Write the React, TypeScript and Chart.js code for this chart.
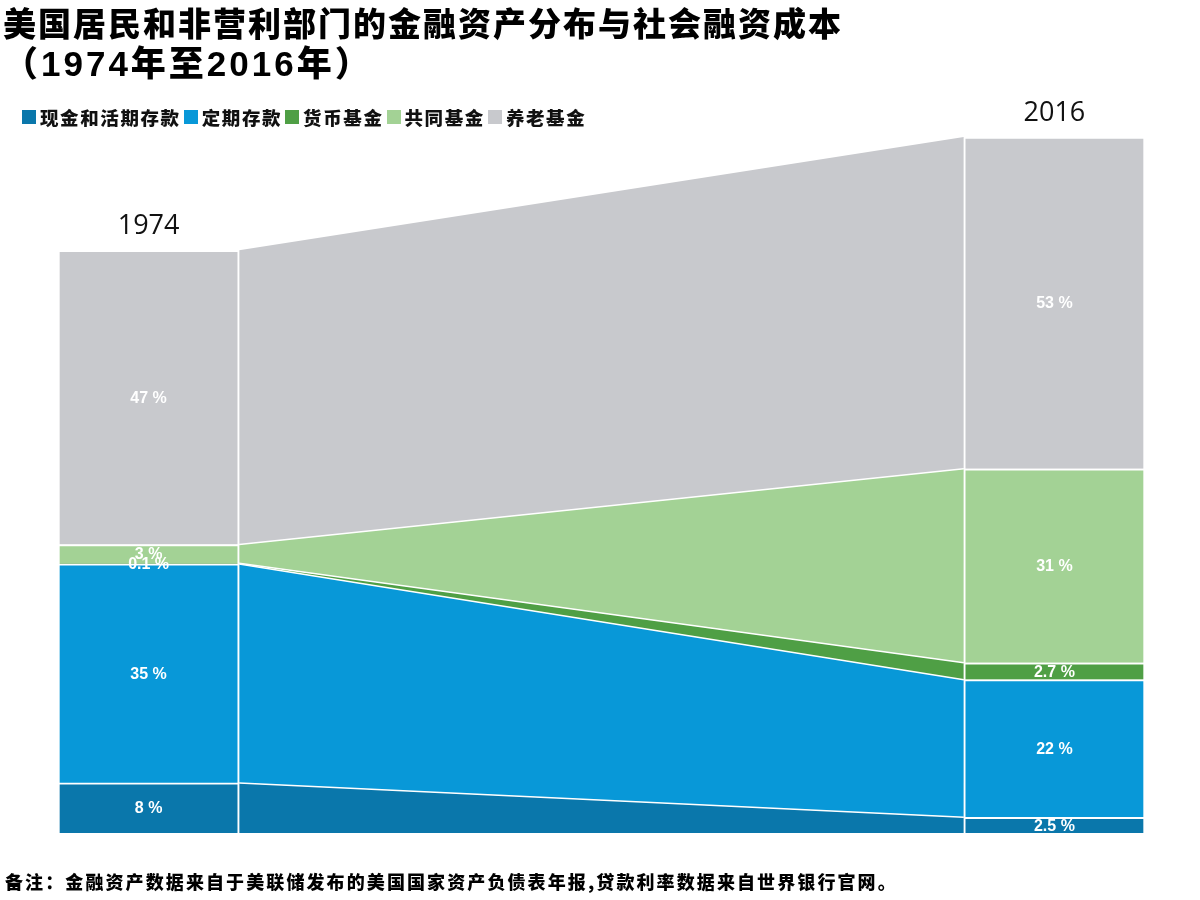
import React, { useEffect, useRef } from "react";
import { Chart, registerables } from "chart.js";

Chart.register(...registerables);

const titleLines = ["美国居民和非营利部门的金融资产分布与社会融资成本", "（1974年至2016年）"];
const noteText = "备注：金融资产数据来自于美联储发布的美国国家资产负债表年报,贷款利率数据来自世界银行官网。";

const categories = ["1974", "", "", "", "", "2016"];
const seriesNames = ["现金和活期存款", "定期存款", "货币基金", "共同基金", "养老基金"];
const seriesColors = ["#0a77ab", "#0898d8", "#4f9f45", "#a3d295", "#c8c9cd"];
const cashValues = [8, null, null, null, null, 2.5];
const timeDepositValues = [35, null, null, null, null, 22];
const moneyFundValues = [0.1, null, null, null, null, 2.7];
const mutualFundValues = [3, null, null, null, null, 31];
const pensionValues = [47, null, null, null, null, 53];
const seriesValues = [cashValues, timeDepositValues, moneyFundValues, mutualFundValues, pensionValues];

const connectorPlugin = {
  id: "connectors",
  beforeDatasetsDraw(chart: any) {
    const ctx = chart.ctx;
    const metas = chart.data.datasets.map((_: any, i: number) => chart.getDatasetMeta(i));
    const segs: any[] = [];
    metas.forEach((meta: any, i: number) => {
      const a = meta.data[0].getProps(["x", "y", "base", "width"], true);
      const b = meta.data[meta.data.length - 1].getProps(["x", "y", "base", "width"], true);
      const xa = a.x + a.width / 2;
      const xb = b.x - b.width / 2;
      segs.push({ xa, xb, a, b, color: chart.data.datasets[i].backgroundColor });
    });
    ctx.save();
    segs.forEach((s) => {
      ctx.beginPath();
      ctx.moveTo(s.xa, s.a.y);
      ctx.lineTo(s.xb, s.b.y);
      ctx.lineTo(s.xb, s.b.base);
      ctx.lineTo(s.xa, s.a.base);
      ctx.closePath();
      ctx.fillStyle = s.color;
      ctx.fill();
    });
    ctx.strokeStyle = "#ffffff";
    ctx.lineWidth = 1.5;
    segs.forEach((s, i) => {
      if (i === segs.length - 1) return;
      ctx.beginPath();
      ctx.moveTo(s.xa, s.a.y);
      ctx.lineTo(s.xb, s.b.y);
      ctx.stroke();
    });
    ctx.restore();
  },
};

const labelPlugin = {
  id: "segmentLabels",
  afterDatasetsDraw(chart: any) {
    const ctx = chart.ctx;
    ctx.save();
    ctx.fillStyle = "#ffffff";
    ctx.font = "bold 16px 'Liberation Sans', Arial, sans-serif";
    ctx.textAlign = "center";
    ctx.textBaseline = "middle";
    const tops: Record<number, number> = {};
    chart.data.datasets.forEach((ds: any, i: number) => {
      const meta = chart.getDatasetMeta(i);
      ds.data.forEach((v: any, j: number) => {
        if (v === null || v === undefined) return;
        const el = meta.data[j].getProps(["x", "y", "base"], true);
        ctx.fillText(`${v} %`, el.x, (el.y + el.base) / 2 + 1);
        tops[j] = tops[j] === undefined ? el.y : Math.min(tops[j], el.y);
      });
    });
    ctx.fillStyle = "#111111";
    ctx.font = "27px 'Open Sans', sans-serif";
    ctx.textBaseline = "alphabetic";
    const meta0 = chart.getDatasetMeta(0);
    Object.keys(tops).forEach((k) => {
      const j = Number(k);
      const el = meta0.data[j].getProps(["x"], true);
      ctx.fillText(chart.data.labels[j], el.x, tops[j] - 16);
    });
    ctx.restore();
  },
};

export default function App() {
  const canvasRef = useRef<HTMLCanvasElement | null>(null);

  useEffect(() => {
    if (!canvasRef.current) return;
    const chart = new Chart(canvasRef.current, {
      type: "bar",
      data: {
        labels: categories,
        datasets: seriesNames.map((name, i) => ({
          label: name,
          data: seriesValues[i],
          backgroundColor: seriesColors[i],
          borderColor: "#ffffff",
          borderWidth: 2,
          barPercentage: 1,
          categoryPercentage: 1,
        })),
      },
      options: {
        animation: false,
        responsive: false,
        layout: { padding: { left: 58, right: 55, top: 82, bottom: 67 } },
        plugins: {
          legend: { display: false },
          tooltip: { enabled: false },
          title: { display: false },
        },
        scales: {
          x: { stacked: true, display: false },
          y: { stacked: true, display: false, min: 0, max: 120 },
        },
      },
      plugins: [connectorPlugin, labelPlugin],
    } as any);
    return () => chart.destroy();
  }, []);

  const cjk = "'Noto Sans CJK SC', 'Noto Sans', sans-serif";

  return (
    <div style={{ position: "absolute", left: 0, top: 0, width: 1200, height: 900, background: "#ffffff", overflow: "hidden" }}>
      <canvas ref={canvasRef} width={1200} height={900} style={{ position: "absolute", left: 0, top: 0 }} />
      <div
        style={{
          position: "absolute",
          left: 3,
          top: 6,
          fontFamily: "'Liberation Sans', " + cjk,
          fontWeight: 900,
          fontSize: 33,
          lineHeight: "37px",
          letterSpacing: 2,
          color: "#000",
          whiteSpace: "nowrap",
        }}
      >
        {titleLines.map((l, i) => (
          <div key={i} style={i === 1 ? { fontSize: 35, letterSpacing: 3, marginTop: 2 } : undefined}>{l}</div>
        ))}
      </div>
      <div
        style={{
          position: "absolute",
          left: 22,
          top: 105,
          display: "flex",
          alignItems: "center",
          fontFamily: cjk,
          fontWeight: 900,
          fontSize: 18.5,
          lineHeight: "24px",
          letterSpacing: 1.6,
          color: "#111",
          whiteSpace: "nowrap",
        }}
      >
        {seriesNames.map((n, i) => (
          <div key={n} style={{ display: "flex", alignItems: "center", marginRight: 3 }}>
            <span style={{ display: "inline-block", width: 14, height: 14, background: seriesColors[i], marginRight: 4 }} />
            <span>{n}</span>
          </div>
        ))}
      </div>
      <div
        style={{
          position: "absolute",
          left: 5,
          top: 869,
          fontFamily: cjk,
          fontWeight: 900,
          fontSize: 18,
          lineHeight: "24px",
          letterSpacing: 2.1,
          color: "#000",
          whiteSpace: "nowrap",
        }}
      >
        {noteText}
      </div>
    </div>
  );
}
